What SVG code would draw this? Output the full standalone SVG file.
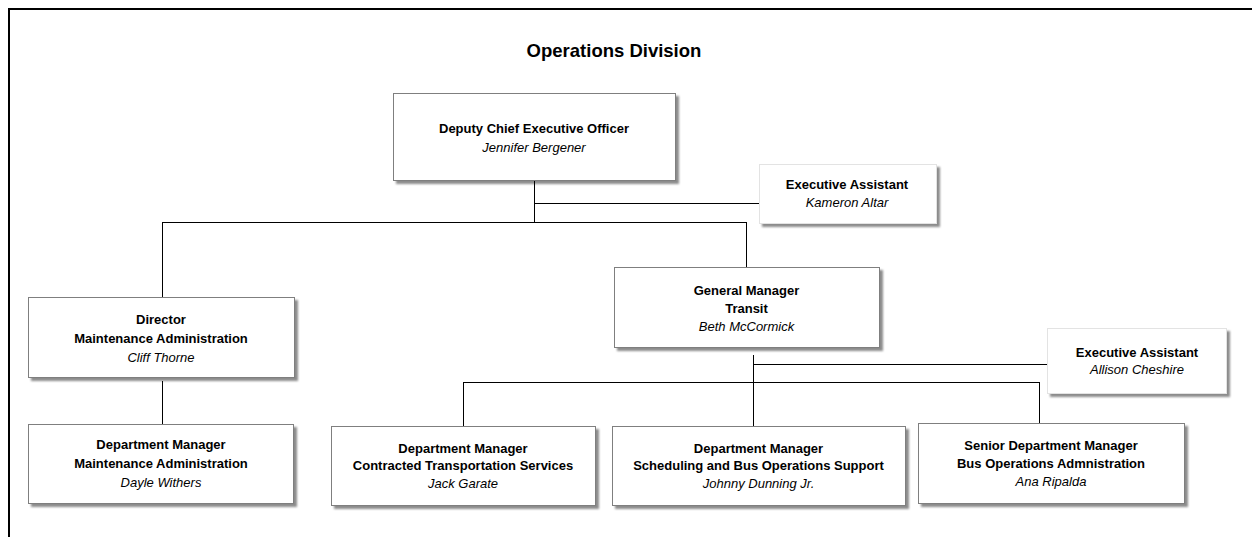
<svg xmlns="http://www.w3.org/2000/svg" width="1252" height="537" viewBox="0 0 1252 537">
<style>
.frame{fill:none;stroke:#000;stroke-width:2}
.box{fill:#fff;stroke:#7f7f7f;stroke-width:1;filter:url(#sh)}
.abox{fill:#fff;stroke:#e3e3e3;stroke-width:1;filter:url(#sh)}
.t{font-family:"Liberation Sans",Arial,sans-serif;font-size:13px;fill:#000;text-anchor:middle}
.b{font-weight:bold}
.i{font-style:italic}
.title{font-family:"Liberation Sans",Arial,sans-serif;font-size:18.5px;font-weight:bold;fill:#000;text-anchor:middle}
#connectors line{stroke:#000;stroke-width:1}
</style>
<defs>
<filter id="sh" x="-10%" y="-10%" width="130%" height="140%">
<feDropShadow dx="3" dy="3" stdDeviation="1.3" flood-color="#000" flood-opacity="0.45"/>
</filter>
</defs>
<rect x="0" y="0" width="1252" height="537" fill="#fff"/>
<rect class="frame" x="9" y="9" width="1262" height="560"/>
<text class="title" x="614" y="57">Operations Division</text>

<g id="connectors">
<line x1="534.5" y1="180" x2="534.5" y2="222"/>
<line x1="534.5" y1="203.5" x2="759" y2="203.5"/>
<line x1="162" y1="222.5" x2="747" y2="222.5"/>
<line x1="162.5" y1="222" x2="162.5" y2="297"/>
<line x1="746.5" y1="222" x2="746.5" y2="267"/>
<line x1="162.5" y1="381" x2="162.5" y2="424"/>
<line x1="753.5" y1="355" x2="753.5" y2="426"/>
<line x1="753.5" y1="364.5" x2="1047" y2="364.5"/>
<line x1="463" y1="382.5" x2="1040" y2="382.5"/>
<line x1="463.5" y1="382" x2="463.5" y2="426"/>
<line x1="1039.5" y1="382" x2="1039.5" y2="423"/>
</g>

<g id="dceo">
<rect class="box" x="393.5" y="93.5" width="282" height="87"/>
<text class="t b" x="534" y="133">Deputy Chief Executive Officer</text>
<text class="t i" x="534" y="152">Jennifer Bergener</text>
</g>

<g id="ea-kameron">
<rect class="abox" x="759.5" y="164.5" width="177" height="59"/>
<text class="t b" x="847" y="189">Executive Assistant</text>
<text class="t i" x="847" y="207">Kameron Altar</text>
</g>

<g id="director">
<rect class="box" x="28.5" y="297.5" width="266" height="80"/>
<text class="t b" x="161" y="324">Director</text>
<text class="t b" x="161" y="343">Maintenance Administration</text>
<text class="t i" x="161" y="362">Cliff Thorne</text>
</g>

<g id="gm">
<rect class="box" x="614.5" y="267.5" width="265" height="80"/>
<text class="t b" x="746.5" y="295">General Manager</text>
<text class="t b" x="746.5" y="313">Transit</text>
<text class="t i" x="746.5" y="331">Beth McCormick</text>
</g>

<g id="ea-allison">
<rect class="abox" x="1047.5" y="328.5" width="179" height="65"/>
<text class="t b" x="1137" y="357">Executive Assistant</text>
<text class="t i" x="1137" y="374">Allison Cheshire</text>
</g>

<g id="dm-maint">
<rect class="box" x="28.5" y="424.5" width="265" height="79"/>
<text class="t b" x="161" y="449">Department Manager</text>
<text class="t b" x="161" y="468">Maintenance Administration</text>
<text class="t i" x="161" y="487">Dayle Withers</text>
</g>

<g id="dm-contracted">
<rect class="box" x="331.5" y="426.5" width="264" height="79"/>
<text class="t b" x="463" y="453">Department Manager</text>
<text class="t b" x="463" y="470">Contracted Transportation Services</text>
<text class="t i" x="463" y="488">Jack Garate</text>
</g>

<g id="dm-scheduling">
<rect class="box" x="612.5" y="426.5" width="293" height="79"/>
<text class="t b" x="758.5" y="453">Department Manager</text>
<text class="t b" x="758.5" y="470">Scheduling and Bus Operations Support</text>
<text class="t i" x="758.5" y="488">Johnny Dunning Jr.</text>
</g>

<g id="sdm-bus">
<rect class="box" x="918.5" y="423.5" width="266" height="80"/>
<text class="t b" x="1051" y="450">Senior Department Manager</text>
<text class="t b" x="1051" y="468">Bus Operations Admnistration</text>
<text class="t i" x="1051" y="486">Ana Ripalda</text>
</g>
</svg>
